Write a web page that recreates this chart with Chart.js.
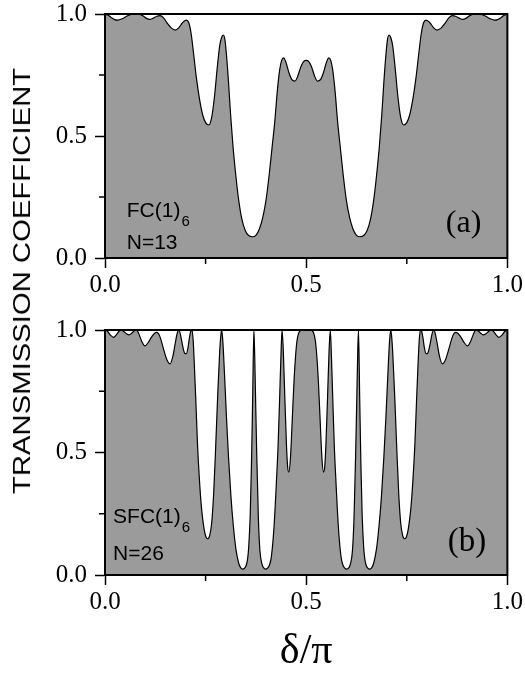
<!DOCTYPE html>
<html><head><meta charset="utf-8">
<script src="https://cdn.jsdelivr.net/npm/chart.js@4"></script>
<style>
html,body{margin:0;padding:0;background:#fff;}
#wrap{position:relative;width:525px;height:673px;overflow:hidden;background:#fff;}
#ca{position:absolute;left:0;top:-16px;}
#cb{position:absolute;left:0;top:300px;}
#ytitle{position:absolute;left:22px;top:281px;font-family:'Liberation Sans',Arial,sans-serif;font-size:24px;line-height:24px;white-space:nowrap;color:#000;transform:translate(-50%,-50%) rotate(-90deg) scaleX(1.22);}
</style></head>
<body><div id="wrap">
<canvas id="ca" width="525" height="316"></canvas>
<canvas id="cb" width="525" height="373"></canvas>
<div id="ytitle">TRANSMISSION COEFFICIENT</div>
</div>
<script>
// Panel (a): FC(1)6, N=13
const deltaA = [0.000,0.008,0.016,0.024,0.032,0.042,0.055,0.068,0.082,0.094,0.103,0.111,0.120,0.129,0.137,0.145,0.155,0.165,0.175,0.184,0.193,0.202,0.208,0.214,0.220,0.227,0.235,0.243,0.250,0.258,0.265,0.272,0.279,0.285,0.290,0.294,0.298,0.302,0.307,0.312,0.318,0.325,0.332,0.340,0.348,0.357,0.366,0.375,0.384,0.392,0.400,0.408,0.415,0.422,0.428,0.434,0.439,0.444,0.450,0.457,0.464,0.472,0.479,0.487,0.494,0.500,
0.506,0.513,0.521,0.528,0.536,0.543,0.550,0.556,0.561,0.566,0.572,0.578,0.585,0.592,0.600,0.608,0.616,0.625,0.634,0.643,0.652,0.660,0.668,0.675,0.682,0.688,0.693,0.698,0.702,0.706,0.710,0.715,0.721,0.728,0.735,0.742,0.750,0.757,0.765,0.773,0.780,0.786,0.792,0.798,0.807,0.816,0.825,0.835,0.845,0.855,0.863,0.871,0.880,0.889,0.897,0.906,0.918,0.932,0.945,0.958,0.968,0.976,0.984,0.992,1.000];
const transA = [1.000,0.995,0.985,0.977,0.975,0.980,0.992,0.999,1.000,0.993,0.982,0.978,0.983,0.991,0.993,0.985,0.962,0.942,0.934,0.945,0.965,0.975,0.965,0.920,0.840,0.740,0.650,0.585,0.555,0.545,0.575,0.660,0.780,0.870,0.905,0.914,0.895,0.830,0.720,0.590,0.460,0.340,0.240,0.160,0.115,0.092,0.087,0.093,0.120,0.165,0.235,0.340,0.450,0.560,0.680,0.770,0.810,0.820,0.800,0.760,0.732,0.725,0.745,0.785,0.806,0.810,
0.806,0.785,0.745,0.725,0.732,0.760,0.800,0.820,0.810,0.770,0.680,0.560,0.450,0.340,0.235,0.165,0.120,0.093,0.087,0.092,0.115,0.160,0.240,0.340,0.460,0.590,0.720,0.830,0.895,0.914,0.905,0.870,0.780,0.660,0.575,0.545,0.555,0.585,0.650,0.740,0.840,0.920,0.965,0.975,0.965,0.945,0.934,0.942,0.962,0.985,0.993,0.991,0.983,0.978,0.982,0.993,1.000,0.999,0.992,0.980,0.975,0.977,0.985,0.995,1.000];

// Panel (b): SFC(1)6, N=26
const deltaB = [0.000,0.006,0.013,0.021,0.029,0.035,0.040,0.046,0.053,0.060,0.067,0.073,0.078,0.084,0.091,0.099,0.107,0.116,0.124,0.129,0.136,0.145,0.154,0.162,0.169,0.175,0.180,0.183,0.187,0.193,0.198,0.202,0.206,0.210,0.213,0.216,0.219,0.222,0.226,0.230,0.235,0.240,0.246,0.251,0.255,0.260,0.265,0.270,0.275,0.280,0.285,0.288,0.290,0.293,0.297,0.302,0.307,0.313,0.319,0.325,0.332,0.337,0.342,0.347,0.351,0.354,0.357,0.361,0.364,0.367,0.370,0.372,0.374,0.377,0.381,0.385,0.390,0.394,0.399,0.404,0.409,0.413,0.418,0.422,0.426,0.430,0.434,0.437,0.440,0.443,0.447,0.451,0.454,0.457,0.461,0.465,0.470,0.476,0.482,0.490,0.500,
0.510,0.518,0.524,0.530,0.535,0.539,0.543,0.546,0.549,0.553,0.557,0.560,0.563,0.566,0.570,0.574,0.578,0.582,0.587,0.591,0.596,0.601,0.606,0.610,0.615,0.619,0.623,0.626,0.628,0.630,0.633,0.636,0.639,0.643,0.646,0.649,0.653,0.658,0.663,0.668,0.675,0.681,0.687,0.693,0.698,0.703,0.707,0.710,0.712,0.715,0.720,0.725,0.730,0.735,0.740,0.745,0.749,0.754,0.760,0.765,0.770,0.774,0.778,0.781,0.784,0.787,0.790,0.794,0.798,0.802,0.807,0.813,0.817,0.820,0.825,0.831,0.838,0.846,0.855,0.864,0.871,0.876,0.884,0.893,0.901,0.909,0.916,0.922,0.927,0.933,0.940,0.947,0.954,0.960,0.965,0.971,0.979,0.987,0.994,1.000];
const transB = [1.000,0.995,0.980,0.970,0.982,0.995,1.000,0.995,0.985,0.980,0.988,0.997,1.000,0.985,0.955,0.935,0.948,0.972,0.988,0.990,0.975,0.925,0.878,0.862,0.895,0.950,0.990,1.000,0.985,0.935,0.905,0.903,0.925,0.970,0.995,1.000,0.960,0.860,0.700,0.530,0.380,0.270,0.190,0.155,0.148,0.160,0.210,0.330,0.520,0.730,0.910,0.980,1.000,0.950,0.820,0.640,0.480,0.320,0.200,0.110,0.050,0.030,0.024,0.028,0.040,0.062,0.110,0.250,0.450,0.720,1.000,0.900,0.740,0.500,0.240,0.100,0.045,0.030,0.024,0.028,0.042,0.070,0.150,0.250,0.380,0.520,0.720,0.880,1.000,0.920,0.720,0.530,0.440,0.420,0.480,0.620,0.800,0.940,0.990,1.000,1.000,
1.000,0.990,0.940,0.800,0.620,0.480,0.420,0.440,0.530,0.720,0.920,1.000,0.880,0.720,0.520,0.380,0.250,0.150,0.070,0.042,0.028,0.024,0.030,0.045,0.100,0.240,0.500,0.740,0.900,1.000,0.720,0.450,0.250,0.110,0.062,0.040,0.028,0.024,0.030,0.050,0.110,0.200,0.320,0.480,0.640,0.820,0.950,1.000,0.980,0.910,0.730,0.520,0.330,0.210,0.160,0.148,0.155,0.190,0.270,0.380,0.530,0.700,0.860,0.960,1.000,0.995,0.970,0.925,0.903,0.905,0.935,0.985,1.000,0.990,0.950,0.895,0.862,0.878,0.925,0.975,0.990,0.988,0.972,0.948,0.935,0.955,0.985,1.000,0.997,0.988,0.980,0.985,0.995,1.000,0.995,0.982,0.970,0.980,0.995,1.000];

const tickValues = [0, 0.5, 1.0];
const minorTicks = [0.25, 0.75];
const xTitle = 'δ/π';

const FILL = '#9b9b9b';
const SERIF = "'Liberation Serif','Times New Roman',serif";
const SANS = "'Liberation Sans',Arial,sans-serif";

function pts(xs, ys){ return xs.map((x,i)=>({x:x, y:ys[i]})); }

function makeFramePlugin(label, nLabel, panelTag, pos){
  return {
    id:'frame',
    afterDatasetsDraw(chart){
      const {ctx, chartArea:a, scales:{x, y}} = chart;
      ctx.save();
      ctx.strokeStyle = '#000';
      ctx.lineWidth = 2;
      ctx.strokeRect(a.left, a.top, a.right-a.left, a.bottom-a.top);
      ctx.lineWidth = 1.5;
      ctx.beginPath();
      minorTicks.forEach(v=>{
        const px = x.getPixelForValue(v);
        ctx.moveTo(px, a.bottom); ctx.lineTo(px, a.bottom+6);
        const py = y.getPixelForValue(v);
        ctx.moveTo(a.left, py); ctx.lineTo(a.left-6, py);
      });
      ctx.stroke();
      // annotations
      ctx.fillStyle = '#000';
      ctx.textBaseline = 'alphabetic';
      ctx.textAlign = 'left';
      ctx.font = '21px ' + SANS;
      const lx = x.getPixelForValue(pos.lx);
      const l1 = y.getPixelForValue(pos.l1);
      ctx.fillText(label, lx, l1);
      const w = ctx.measureText(label).width;
      ctx.font = '15px ' + SANS;
      ctx.fillText('6', lx + w + 1, l1 + 9);
      ctx.font = '21px ' + SANS;
      ctx.fillText(nLabel, lx, y.getPixelForValue(pos.l2));
      ctx.font = pos.tagSize + 'px ' + SERIF;
      ctx.fillText(panelTag, x.getPixelForValue(pos.tx), y.getPixelForValue(pos.ty));
      if (pos.title){
        ctx.font = '42px ' + SERIF;
        ctx.textAlign = 'center';
        ctx.fillText(xTitle, (a.left+a.right)/2, a.bottom + pos.titleOff);
      }
      ctx.restore();
    }
  };
}

function makeChart(id, xs, ys, padTop, xHeight, plugin){
  return new Chart(document.getElementById(id), {
    type:'scatter',
    data:{datasets:[{
      data: pts(xs, ys),
      showLine:true,
      borderColor:'#000',
      borderWidth:1.2,
      backgroundColor: FILL,
      fill:'origin',
      pointRadius:0,
      cubicInterpolationMode:'monotone'
    }]},
    options:{
      responsive:false,
      devicePixelRatio:1,
      animation:false,
      events:[],
      layout:{padding:{top:padTop, right:16, left:0, bottom:0}},
      plugins:{legend:{display:false}, tooltip:{enabled:false}},
      scales:{
        x:{type:'linear', min:0, max:1,
          afterBuildTicks(s){ s.ticks = tickValues.map(v=>({value:v})); },
          afterFit(s){ s.height = xHeight; },
          ticks:{callback:v=>v.toFixed(1), color:'#000', font:{family:SERIF, size:25}, padding:2, maxRotation:0, autoSkip:false},
          grid:{drawOnChartArea:false, drawTicks:true, tickLength:10, tickColor:'#000', tickWidth:1.5},
          border:{display:true, color:'#000', width:2}
        },
        y:{type:'linear', min:0, max:1,
          afterBuildTicks(s){ s.ticks = tickValues.map(v=>({value:v})); },
          afterFit(s){ s.width = 105; },
          ticks:{callback:v=>v.toFixed(1), color:'#000', font:{family:SERIF, size:25}, padding:8},
          grid:{drawOnChartArea:false, drawTicks:true, tickLength:10, tickColor:'#000', tickWidth:1.5},
          border:{display:true, color:'#000', width:2}
        }
      }
    },
    plugins:[plugin]
  });
}

makeChart('ca', deltaA, transA, 30, 42,
  makeFramePlugin('FC(1)', 'N=13', '(a)', {lx:0.054, l1:0.168, l2:0.037, tx:0.847, ty:0.105, tagSize:32}));
makeChart('cb', deltaB, transB, 30, 98,
  makeFramePlugin('SFC(1)', 'N=26', '(b)', {lx:0.02, l1:0.212, l2:0.061, tx:0.852, ty:0.1, tagSize:33, title:true, titleOff:88}));
</script>
</body></html>
